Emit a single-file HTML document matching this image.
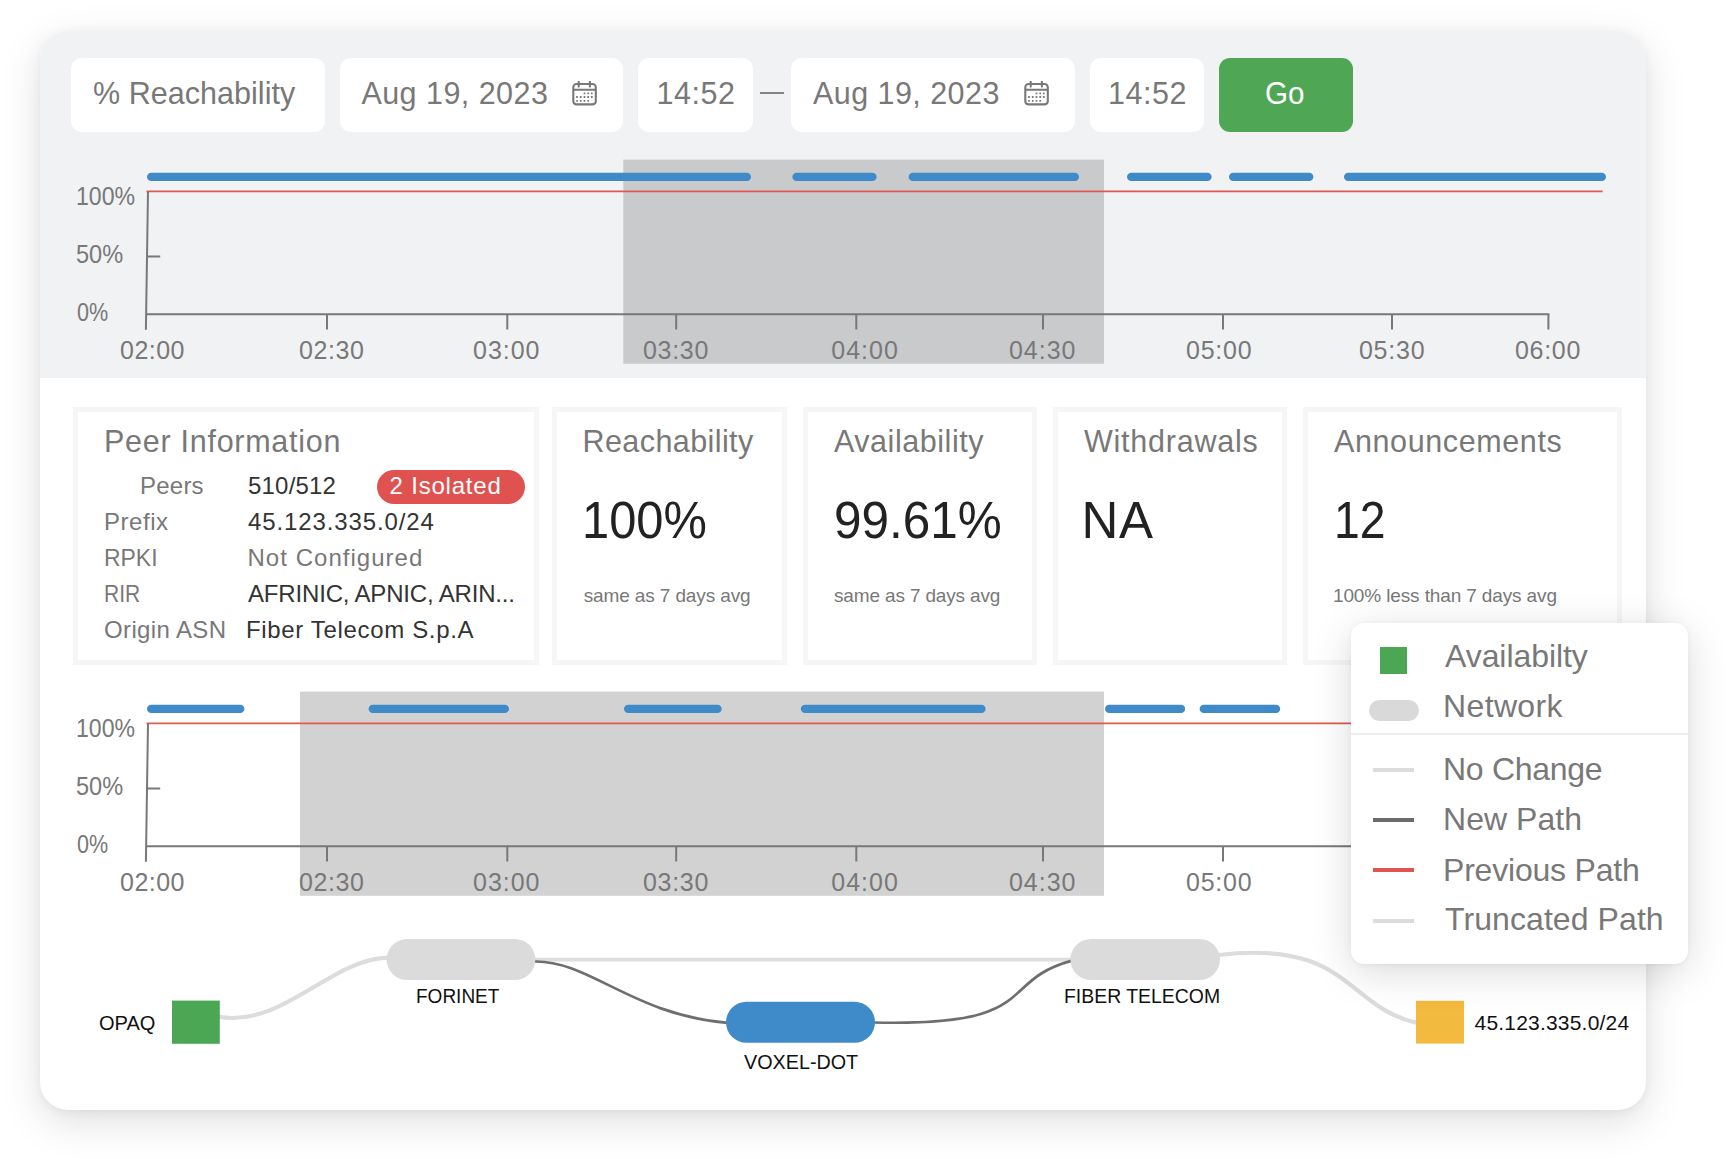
<!DOCTYPE html>
<html lang="en"><head><meta charset="utf-8"><title>Reachability dashboard</title>
<style>
*{box-sizing:border-box}
html,body{margin:0;padding:0}
body{width:1730px;height:1159px;background:#fff;position:relative;overflow:hidden;font-family:"Liberation Sans",Arial,sans-serif}
.card{position:absolute;left:40px;top:31px;width:1605.5px;height:1079px;background:#fff;border-radius:28px;box-shadow:0 12px 40px rgba(0,0,0,.13),0 2px 10px rgba(0,0,0,.05)}
.clip{position:absolute;left:0;top:0;width:100%;height:100%;border-radius:28px;overflow:hidden}
.top{position:absolute;left:0;top:0;width:100%;height:347.3px;background:#f1f2f4}
.t{position:absolute;white-space:nowrap;margin:0;font-weight:400;font-style:normal;transform-origin:0 50%}
.tbx,.go{position:absolute;top:26.5px;height:74.75px;background:#fff;border-radius:11px}
.go{background:#4fa755}
.dash{position:absolute;left:720px;top:60.6px;width:24.4px;height:2px;background:#838383}
.cal{position:absolute}
svg.shapes{position:absolute;left:0;top:0}
.stat{position:absolute;top:376px;height:257.75px;border:5px solid #f6f6f7;background:#fff}
.badge{position:absolute;left:299.4px;top:58px;width:147.2px;height:33.5px;border-radius:17px;background:#e0524f}
.labels{position:absolute;left:0;top:0}
.legend{position:absolute;left:1350.75px;top:623px;width:337.6px;height:340.75px;background:#fff;border-radius:13px;box-shadow:0 8px 40px rgba(0,0,0,.15),0 1px 5px rgba(0,0,0,.05)}
.legend i{position:absolute;display:block}
</style></head>
<body>
<main class="card">
<div class="clip">
<section class="top"></section>
<svg class="shapes" width="1605.5" height="1079" viewBox="40 31 1605.5 1079">
<g id="chart-top">
<rect x="623.3" y="159.6" width="480.7" height="204.2" fill="#c9cacc"/>
<path d="M148 191.4 L145.9 329.8 M145.5 314.3 H1549.4 M147 256.4 H160.2" stroke="#76787a" stroke-width="2" fill="none"/>
<path d="M327 314.2 V329.6 M507.3 314.2 V329.6 M676.2 314.2 V329.6 M856.3 314.2 V329.6 M1043 314.2 V329.6 M1223 314.2 V329.6 M1392 314.2 V329.6 M1548.4 314.2 V329.6" stroke="#76787a" stroke-width="2" fill="none"/>
<path d="M146.5 191.4 H1602.6" stroke="#e05852" stroke-width="1.9" fill="none"/>
<path d="M151.2 176.9 H746.8 M796.6 176.9 H872.4 M912.8 176.9 H1074.8 M1131.2 176.9 H1207.4 M1233.2 176.9 H1309.2 M1348.2 176.9 H1601.8" stroke="#3f8bca" stroke-width="8.4" stroke-linecap="round" fill="none"/>
</g>
<g id="chart-bottom">
<rect x="300" y="691.6" width="804" height="204.2" fill="#d2d2d2"/>
<path d="M148 723.4 L145.9 861.8 M145.5 846.3 H1549.4 M147 788.4 H160.2" stroke="#76787a" stroke-width="2" fill="none"/>
<path d="M327 846.2 V861.6 M507.3 846.2 V861.6 M676.2 846.2 V861.6 M856.3 846.2 V861.6 M1043 846.2 V861.6 M1223 846.2 V861.6 M1392 846.2 V861.6 M1548.4 846.2 V861.6" stroke="#76787a" stroke-width="2" fill="none"/>
<path d="M146.5 723.4 H1602.6" stroke="#e05852" stroke-width="1.9" fill="none"/>
<path d="M151.2 708.9 H240.2 M372.8 708.9 H504.8 M628.2 708.9 H717.5 M805 708.9 H981.4 M1109.2 708.9 H1181 M1203.8 708.9 H1276" stroke="#3f8bca" stroke-width="8.4" stroke-linecap="round" fill="none"/>
</g>
<g id="path-diagram">
<path d="M218.5 1016.8 C 282.7 1028, 330.5 958.8, 388 957.6" stroke="#dcdcdc" stroke-width="4.2" fill="none"/>
<path d="M534 959.6 H1072" stroke="#dedede" stroke-width="3.9" fill="none"/>
<path d="M1218.5 955 C 1349.8 939.4, 1345.6 1007, 1417 1022.9" stroke="#dcdcdc" stroke-width="4.2" fill="none"/>
<path d="M534 961.5 C 589.1 960.1, 633 1015.3, 727.5 1022.8" stroke="#6e6e6e" stroke-width="2.7" fill="none"/>
<path d="M873.5 1022.5 C 1044.6 1026.8, 995.1 981.5, 1072 960.6" stroke="#6e6e6e" stroke-width="2.7" fill="none"/>
<rect x="172" y="1000.6" width="47.8" height="43.2" fill="#4ca755"/>
<rect x="386.6" y="939" width="148.8" height="41" rx="20.5" fill="#dbdbdb"/>
<rect x="726" y="1001.8" width="149" height="41" rx="20.5" fill="#3f8bca"/>
<rect x="1070.4" y="939" width="149.6" height="41" rx="20.5" fill="#dbdbdb"/>
<rect x="1416" y="1000.8" width="48" height="42.8" fill="#f2bb3f"/>
</g>
</svg>
<header class="toolbar">
<div class="tbx" style="left:31px;width:253.5px"><span class="t" style="left:22px;top:17.5px;font-size:30.5px;line-height:37px;letter-spacing:0.04px;color:#787878">% Reachability</span></div>
<div class="tbx" style="left:299.6px;width:283px"><span class="t" style="left:21.8px;top:17.5px;font-size:30.5px;line-height:37px;letter-spacing:0.46px;color:#787878">Aug 19, 2023</span><svg class="cal" style="left:232px;top:23.5px" width="26" height="26" viewBox="0 0 26 26" aria-hidden="true"><g fill="none" stroke="#787878" stroke-width="2.1"><rect x="1.3" y="3" width="22.5" height="20.4" rx="3.2"/><path d="M1.3 8.8H23.8"/><path d="M6.7 .5V5.6M17.9 .5V5.6" stroke-linecap="round"/></g><g fill="#787878"><rect x="11.6" y="11.5" width="1.8" height="1.8" rx=".5"/><rect x="15.3" y="11.5" width="1.8" height="1.8" rx=".5"/><rect x="18.9" y="11.5" width="1.8" height="1.8" rx=".5"/><rect x="4.1" y="15.1" width="1.8" height="1.8" rx=".5"/><rect x="7.8" y="15.1" width="1.8" height="1.8" rx=".5"/><rect x="11.6" y="15.1" width="1.8" height="1.8" rx=".5"/><rect x="15.3" y="15.1" width="1.8" height="1.8" rx=".5"/><rect x="18.9" y="15.1" width="1.8" height="1.8" rx=".5"/><rect x="4.1" y="18.9" width="1.8" height="1.8" rx=".5"/><rect x="7.8" y="18.9" width="1.8" height="1.8" rx=".5"/><rect x="11.6" y="18.9" width="1.8" height="1.8" rx=".5"/><rect x="15.3" y="18.9" width="1.8" height="1.8" rx=".5"/></g></svg></div>
<div class="tbx" style="left:598.4px;width:114.2px"><span class="t" style="left:18.2px;top:17.5px;font-size:30.5px;line-height:37px;letter-spacing:0.51px;color:#787878">14:52</span></div>
<div class="dash"></div>
<div class="tbx" style="left:751.4px;width:283.6px"><span class="t" style="left:21.6px;top:17.5px;font-size:30.5px;line-height:37px;letter-spacing:0.45px;color:#787878">Aug 19, 2023</span><svg class="cal" style="left:232.6px;top:23.5px" width="26" height="26" viewBox="0 0 26 26" aria-hidden="true"><g fill="none" stroke="#787878" stroke-width="2.1"><rect x="1.3" y="3" width="22.5" height="20.4" rx="3.2"/><path d="M1.3 8.8H23.8"/><path d="M6.7 .5V5.6M17.9 .5V5.6" stroke-linecap="round"/></g><g fill="#787878"><rect x="11.6" y="11.5" width="1.8" height="1.8" rx=".5"/><rect x="15.3" y="11.5" width="1.8" height="1.8" rx=".5"/><rect x="18.9" y="11.5" width="1.8" height="1.8" rx=".5"/><rect x="4.1" y="15.1" width="1.8" height="1.8" rx=".5"/><rect x="7.8" y="15.1" width="1.8" height="1.8" rx=".5"/><rect x="11.6" y="15.1" width="1.8" height="1.8" rx=".5"/><rect x="15.3" y="15.1" width="1.8" height="1.8" rx=".5"/><rect x="18.9" y="15.1" width="1.8" height="1.8" rx=".5"/><rect x="4.1" y="18.9" width="1.8" height="1.8" rx=".5"/><rect x="7.8" y="18.9" width="1.8" height="1.8" rx=".5"/><rect x="11.6" y="18.9" width="1.8" height="1.8" rx=".5"/><rect x="15.3" y="18.9" width="1.8" height="1.8" rx=".5"/></g></svg></div>
<div class="tbx" style="left:1050px;width:114px"><span class="t" style="left:18px;top:17.5px;font-size:30.5px;line-height:37px;letter-spacing:0.56px;color:#787878">14:52</span></div>
<div class="go" style="left:1179px;width:134px"><span class="t" style="left:45.68px;top:16.5px;font-size:32px;line-height:38px;letter-spacing:0px;color:#fff;transform:scaleX(0.924)">Go</span></div>
</header>
<div class="labels axis-top"><span class="t" style="left:35.78px;top:150px;font-size:25px;line-height:30px;letter-spacing:0px;color:#787878;transform:scaleX(0.923)">100%</span><span class="t" style="left:36.06px;top:208px;font-size:25px;line-height:30px;letter-spacing:0px;color:#787878;transform:scaleX(0.942)">50%</span><span class="t" style="left:37px;top:266px;font-size:25px;line-height:30px;letter-spacing:0px;color:#787878;transform:scaleX(0.863)">0%</span><span class="t" style="left:80px;top:304px;font-size:25px;line-height:30px;letter-spacing:0.49px;color:#787878">02:00</span><span class="t" style="left:259px;top:304px;font-size:25px;line-height:30px;letter-spacing:0.59px;color:#787878">02:30</span><span class="t" style="left:433px;top:304px;font-size:25px;line-height:30px;letter-spacing:0.99px;color:#787878">03:00</span><span class="t" style="left:602.9px;top:304px;font-size:25px;line-height:30px;letter-spacing:0.74px;color:#787878">03:30</span><span class="t" style="left:791.3px;top:304px;font-size:25px;line-height:30px;letter-spacing:0.99px;color:#787878">04:00</span><span class="t" style="left:969px;top:304px;font-size:25px;line-height:30px;letter-spacing:0.96px;color:#787878">04:30</span><span class="t" style="left:1146px;top:304px;font-size:25px;line-height:30px;letter-spacing:0.76px;color:#787878">05:00</span><span class="t" style="left:1318.9px;top:304px;font-size:25px;line-height:30px;letter-spacing:0.81px;color:#787878">05:30</span><span class="t" style="left:1475px;top:304px;font-size:25px;line-height:30px;letter-spacing:0.69px;color:#787878">06:00</span></div>
<div class="labels axis-bottom"><span class="t" style="left:35.78px;top:682px;font-size:25px;line-height:30px;letter-spacing:0px;color:#787878;transform:scaleX(0.923)">100%</span><span class="t" style="left:36.06px;top:740px;font-size:25px;line-height:30px;letter-spacing:0px;color:#787878;transform:scaleX(0.942)">50%</span><span class="t" style="left:37px;top:798px;font-size:25px;line-height:30px;letter-spacing:0px;color:#787878;transform:scaleX(0.863)">0%</span><span class="t" style="left:80px;top:836px;font-size:25px;line-height:30px;letter-spacing:0.49px;color:#787878">02:00</span><span class="t" style="left:259px;top:836px;font-size:25px;line-height:30px;letter-spacing:0.59px;color:#787878">02:30</span><span class="t" style="left:433px;top:836px;font-size:25px;line-height:30px;letter-spacing:0.99px;color:#787878">03:00</span><span class="t" style="left:602.9px;top:836px;font-size:25px;line-height:30px;letter-spacing:0.74px;color:#787878">03:30</span><span class="t" style="left:791.3px;top:836px;font-size:25px;line-height:30px;letter-spacing:0.99px;color:#787878">04:00</span><span class="t" style="left:969px;top:836px;font-size:25px;line-height:30px;letter-spacing:0.96px;color:#787878">04:30</span><span class="t" style="left:1146px;top:836px;font-size:25px;line-height:30px;letter-spacing:0.76px;color:#787878">05:00</span><span class="t" style="left:1318.9px;top:836px;font-size:25px;line-height:30px;letter-spacing:0.81px;color:#787878">05:30</span><span class="t" style="left:1475px;top:836px;font-size:25px;line-height:30px;letter-spacing:0.69px;color:#787878">06:00</span></div>
<section class="stats">
<article class="stat" style="left:33px;width:466px"><h3 class="t h" style="left:26px;top:11px;font-size:30.5px;line-height:37px;letter-spacing:0.73px;color:#787878">Peer Information</h3><span class="t k" style="left:62px;top:59px;font-size:24px;line-height:29px;letter-spacing:0.23px;color:#787878">Peers</span><span class="t v" style="left:170px;top:59px;font-size:24px;line-height:29px;letter-spacing:0.2px;color:#333">510/512</span><span class="t k" style="left:26px;top:95px;font-size:24px;line-height:29px;letter-spacing:0.53px;color:#787878">Prefix</span><span class="t v" style="left:170px;top:95px;font-size:24px;line-height:29px;letter-spacing:0.89px;color:#333">45.123.335.0/24</span><span class="t k" style="left:26.04px;top:131px;font-size:24px;line-height:29px;letter-spacing:0px;color:#787878;transform:scaleX(0.956)">RPKI</span><span class="t v" style="left:169.5px;top:131px;font-size:24px;line-height:29px;letter-spacing:1.03px;color:#787878">Not Configured</span><span class="t k" style="left:26.12px;top:167px;font-size:24px;line-height:29px;letter-spacing:0px;color:#787878;transform:scaleX(0.875)">RIR</span><span class="t v" style="left:170px;top:167px;font-size:24px;line-height:29px;letter-spacing:-0.17px;color:#333">AFRINIC, APNIC, ARIN...</span><span class="t k" style="left:26px;top:203px;font-size:24px;line-height:29px;letter-spacing:0.37px;color:#787878">Origin ASN</span><span class="t v" style="left:168px;top:203px;font-size:24px;line-height:29px;letter-spacing:0.66px;color:#333">Fiber Telecom S.p.A</span><div class="badge"><span class="t" style="left:12.2px;top:1px;font-size:24px;line-height:29px;letter-spacing:0.79px;color:#fff">2 Isolated</span></div></article>
<article class="stat" style="left:512px;width:235px"><h3 class="t h" style="left:25.5px;top:11px;font-size:30.5px;line-height:37px;letter-spacing:0.42px;color:#787878">Reachability</h3><strong class="t n" style="left:24.93px;top:78px;font-size:51px;line-height:61px;letter-spacing:0px;color:#222;transform:scaleX(0.957)">100%</strong><small class="t d" style="left:26.7px;top:172px;font-size:19px;line-height:23px;letter-spacing:-0.12px;color:#787878">same as 7 days avg</small></article>
<article class="stat" style="left:763px;width:233.5px"><h3 class="t h" style="left:26px;top:11px;font-size:30.5px;line-height:37px;letter-spacing:0.54px;color:#787878">Availability</h3><strong class="t n" style="left:26.06px;top:78px;font-size:51px;line-height:61px;letter-spacing:0px;color:#222;transform:scaleX(0.970)">99.61%</strong><small class="t d" style="left:26px;top:172px;font-size:19px;line-height:23px;letter-spacing:-0.15px;color:#787878">same as 7 days avg</small></article>
<article class="stat" style="left:1012.5px;width:234.5px"><h3 class="t h" style="left:26.5px;top:11px;font-size:30.5px;line-height:37px;letter-spacing:0.77px;color:#787878">Withdrawals</h3><strong class="t n" style="left:24px;top:78px;font-size:51px;line-height:61px;letter-spacing:0.57px;color:#222">NA</strong></article>
<article class="stat" style="left:1262.5px;width:319.5px"><h3 class="t h" style="left:26.5px;top:11px;font-size:30.5px;line-height:37px;letter-spacing:0.61px;color:#787878">Announcements</h3><strong class="t n" style="left:26.77px;top:78px;font-size:51px;line-height:61px;letter-spacing:0px;color:#222;transform:scaleX(0.909)">12</strong><small class="t d" style="left:25.5px;top:172px;font-size:19px;line-height:23px;letter-spacing:-0.13px;color:#787878">100% less than 7 days avg</small></article>
</section>
<div class="labels diagram-labels"><span class="t" style="left:58.84px;top:979px;font-size:21px;line-height:25px;letter-spacing:0px;color:#111;transform:scaleX(0.955)">OPAQ</span><span class="t" style="left:375.69px;top:952px;font-size:21px;line-height:25px;letter-spacing:0px;color:#111;transform:scaleX(0.905)">FORINET</span><span class="t" style="left:704px;top:1018px;font-size:21px;line-height:25px;letter-spacing:0px;color:#111;transform:scaleX(0.941)">VOXEL-DOT</span><span class="t" style="left:1024.07px;top:952px;font-size:21px;line-height:25px;letter-spacing:0px;color:#111;transform:scaleX(0.925)">FIBER TELECOM</span><span class="t" style="left:1434.5px;top:979px;font-size:21px;line-height:25px;letter-spacing:0.2px;color:#111">45.123.335.0/24</span></div>
</div>
</main>
<aside class="legend">
<i style="left:29.25px;top:24px;width:27px;height:26.5px;background:#4ca755"></i>
<i style="left:17.85px;top:76.9px;width:50px;height:20.8px;border-radius:10.4px;background:#d9d9d9"></i>
<i style="left:0;top:110.3px;width:100%;height:1.6px;background:#eee"></i>
<i style="left:22.05px;top:144.5px;width:41.6px;height:4px;background:#dcdcdc"></i>
<i style="left:22.05px;top:194.6px;width:41.6px;height:4px;background:#6b6b6b"></i>
<i style="left:22.05px;top:245.2px;width:41.6px;height:4px;background:#df5350"></i>
<i style="left:22.05px;top:296px;width:41.6px;height:4px;background:#dcdcdc"></i>
<span class="t" style="left:94.25px;top:14px;font-size:32px;line-height:38px;letter-spacing:-0.07px;color:#787878">Availabilty</span><span class="t" style="left:92.25px;top:64px;font-size:32px;line-height:38px;letter-spacing:0.36px;color:#787878">Network</span><span class="t" style="left:92.25px;top:127px;font-size:32px;line-height:38px;letter-spacing:-0.3px;color:#787878">No Change</span><span class="t" style="left:92.25px;top:177px;font-size:32px;line-height:38px;letter-spacing:0.04px;color:#787878">New Path</span><span class="t" style="left:92.25px;top:228px;font-size:32px;line-height:38px;letter-spacing:-0.2px;color:#787878">Previous Path</span><span class="t" style="left:94.25px;top:277px;font-size:32px;line-height:38px;letter-spacing:0.08px;color:#787878">Truncated Path</span>
</aside>
</body></html>
